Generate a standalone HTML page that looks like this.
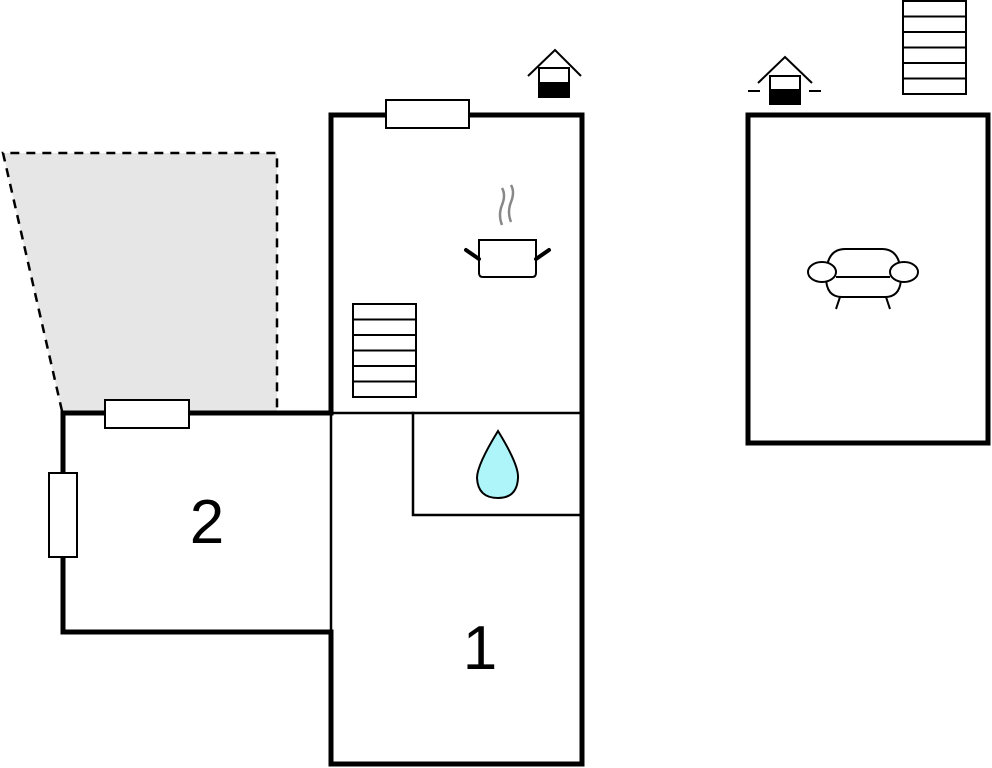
<!DOCTYPE html>
<html><head><style>html,body{margin:0;padding:0;background:#fff;width:992px;height:768px;overflow:hidden}</style></head>
<body>
<svg width="992" height="768" viewBox="0 0 992 768" xmlns="http://www.w3.org/2000/svg">
<polygon points="3,153 277,153 277,411 62,411" fill="#e6e6e6"/>
<polyline points="62,411 3,153 277,153 277,411" fill="none" stroke="#000" stroke-width="2.5" stroke-dasharray="9,7"/>
<g fill="none" stroke="#000" stroke-linecap="square">
<path d="M331,413 L331,115 L582,115 L582,764 L331,764 L331,632" stroke-width="5"/>
<path d="M331,413 L331,632" stroke-width="2.5"/>
<path d="M331,413 L582,413" stroke-width="2.5"/>
<path d="M413,413 L413,515 L582,515" stroke-width="2.5"/>
<path d="M331,413 L63,413 L63,632 L331,632" stroke-width="5"/>
<rect x="748" y="115" width="240" height="328" stroke-width="5"/>
</g>
<g fill="#fff" stroke="#000" stroke-width="2">
<rect x="386" y="100" width="83" height="28"/>
<rect x="105" y="400" width="84" height="28"/>
<rect x="49" y="473" width="28" height="84"/>
</g>
<g fill="#fff" stroke="#000" stroke-width="2">
<rect x="353" y="304" width="63" height="93"/>
<path d="M353,319.5H416M353,335H416M353,350.5H416M353,366H416M353,381.5H416"/>
<rect x="903" y="1" width="63" height="93"/>
<path d="M903,16.5H966M903,32H966M903,47.5H966M903,63H966M903,78.5H966"/>
</g>
<g stroke="#000" stroke-width="2" fill="#fff">
<path d="M528,76 L555,50 L581,76" fill="none"/>
<rect x="539" y="68" width="30" height="29"/>
<rect x="539" y="83" width="30" height="14" fill="#000"/>
<path d="M758,83 L785,57 L812,83" fill="none"/>
<rect x="770" y="76" width="30" height="28"/>
<rect x="770" y="90" width="30" height="14" fill="#000"/>
<path d="M748,91H760M809,91H821" fill="none"/>
</g>
<g stroke="#000" fill="#fff">
<path d="M479,240 H536 V273 Q536,277 532,277 H483 Q479,277 479,273 Z" stroke-width="2"/>
<path d="M466,250 L479,259 M549,250 L536,259" stroke-width="4" stroke-linecap="round"/>
<path d="M502,225 Q498,215 502,205 Q506,195 502,188 M511,222 Q507,212 511,202 Q515,192 511,185" fill="none" stroke="#888" stroke-width="2.5"/>
</g>
<path d="M498,431 Q519,465 518,478 Q517,498 498,498 Q478,498 477,478 Q477,465 498,431 Z" fill="#adf5f8" stroke="#000" stroke-width="2"/>
<g stroke="#000" stroke-width="2" fill="#fff">
<path d="M826,277 Q826,249 845,249 H882 Q901,249 901,277 Q901,297 885,297 H842 Q826,297 826,277 Z"/>
<path d="M836,277 H890 M840,297 L836,309 M886,297 L890,309" fill="none"/>
<ellipse cx="822" cy="272" rx="14" ry="10"/>
<ellipse cx="904" cy="272" rx="14" ry="10"/>
</g>
<text x="207" y="543" font-family="Liberation Sans, sans-serif" font-size="62" text-anchor="middle">2</text>
<text x="480" y="669" font-family="Liberation Sans, sans-serif" font-size="62" text-anchor="middle">1</text>
</svg>
</body></html>
